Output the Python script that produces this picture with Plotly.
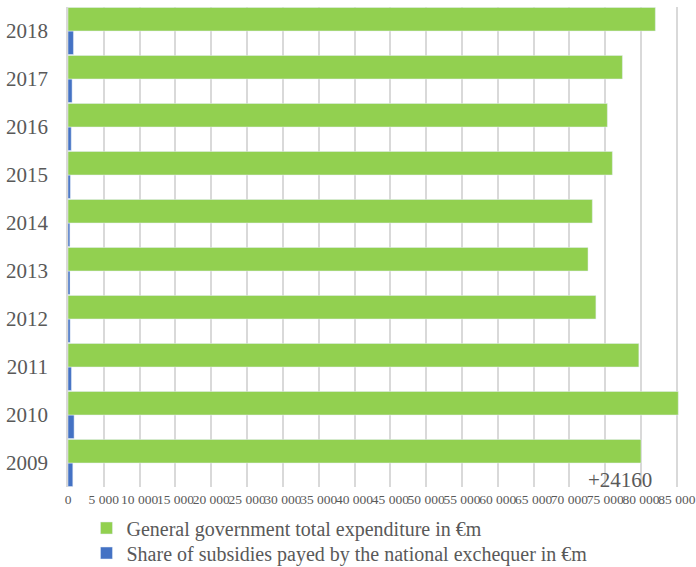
import plotly.graph_objects as go

years = ["2009", "2010", "2011", "2012", "2013", "2014", "2015", "2016", "2017", "2018"]
expenditure = [80000, 85200, 79700, 73700, 72600, 73200, 76000, 75300, 77400, 82000]
subsidies = [670, 850, 480, 300, 280, 260, 330, 450, 570, 760]
tick_vals = list(range(0, 85001, 5000))
tick_text = ["0"] + [f"{v // 1000} 000" for v in tick_vals[1:]]
note_text = "+24160"
note_x = 77100

font_family = "Liberation Serif, Times New Roman, serif"
grey = "#595959"

fig = go.Figure()
fig.add_trace(go.Bar(
    y=years, x=subsidies, orientation="h",
    name="Share of subsidies payed by the national exchequer in €m",
    marker=dict(color="#4472c4"), legend="legend2",
))
fig.add_trace(go.Bar(
    y=years, x=expenditure, orientation="h",
    name="General government total expenditure in €m",
    marker=dict(color="#92d050"), legend="legend",
))

fig.add_annotation(
    x=note_x, y=0.0146, xref="x", yref="paper", yanchor="middle",
    text=note_text, showarrow=False,
    font=dict(family=font_family, size=21, color=grey),
)

legend_common = dict(
    xanchor="left", yanchor="middle",
    font=dict(size=20, color=grey, family=font_family),
    bgcolor="rgba(0,0,0,0)", itemwidth=30,
)

fig.update_layout(
    width=696, height=567,
    margin=dict(l=68, r=12, t=7, b=80, autoexpand=False),
    barmode="group", bargap=0.02, bargroupgap=0,
    plot_bgcolor="white", paper_bgcolor="white",
    font=dict(family=font_family, color=grey),
    xaxis=dict(
        range=[0, 86000], tickvals=tick_vals, ticktext=tick_text,
        tickfont=dict(size=13.5, color=grey), showgrid=True,
        gridcolor="#d9d9d9", gridwidth=1.5, zeroline=False,
        showline=False, ticks="", ticklabelstandoff=2, tickangle=0,
        automargin=False,
    ),
    yaxis=dict(
        tickfont=dict(size=21, color=grey), showgrid=False,
        showline=True, linecolor="#d9d9d9", linewidth=1.5,
        ticks="", ticklabelstandoff=14, automargin=False,
    ),
    legend=dict(x=0.03, y=-0.0854, **legend_common),
    legend2=dict(x=0.03, y=-0.1375, **legend_common),
    showlegend=True,
)

fig.write_html(
    "out.html",
    config={"displayModeBar": False},
    post_script="document.body.style.margin='0';",
)
